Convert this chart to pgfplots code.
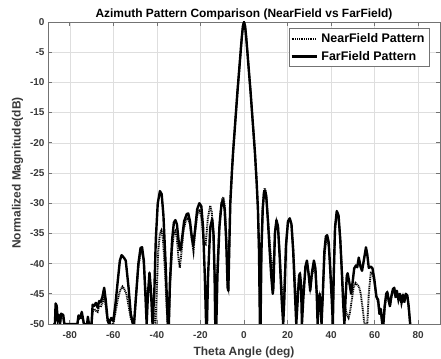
\documentclass[border=0pt]{standalone}
\usepackage{pgfplots}
\pgfplotsset{compat=1.18}
\usepackage{fontspec}
\setmainfont{Liberation Sans}
\begin{document}
\begin{tikzpicture}[x=1bp,y=1bp]
\begin{axis}[
  at={(0,0)}, anchor=south west,
  width=392bp, height=302bp, scale only axis,
  xmin=-90, xmax=90, ymin=-50, ymax=0,
  xtick={-80,-60,...,80}, ytick={-50,-45,...,0},
  grid=major, major grid style={black!13, line width=0.5bp},
  axis line style={black!55, line width=0.7bp},
  tick style={black!55, line width=0.7bp},
  tick align=inside, major tick length=4bp,
  tick label style={font=\bfseries\fontsize{10}{11}\selectfont, text=black!78},
  xticklabel style={yshift=-4.5bp},
  /pgf/number format/assume math mode=true,
  title={Azimuth Pattern Comparison (NearField vs FarField)},
  title style={font=\bfseries\fontsize{12}{14}\selectfont, at={(axis description cs:0.5,1)}, anchor=base, yshift=-1.5bp},
  xlabel={Theta Angle (deg)},
  ylabel={Normalized Magnitude(dB)},
  label style={font=\bfseries\fontsize{12}{14}\selectfont, text=black!78},
  xlabel style={at={(axis description cs:0.5,0)}, anchor=base, yshift=-31bp},
  ylabel style={at={(axis description cs:-0.0778,0.5)}, anchor=center},
  legend style={at={(rel axis cs:0.9745,0.980)}, anchor=north east,
    font=\bfseries\fontsize{12.5}{14}\selectfont, draw=black!55,
    line width=0.7bp, inner sep=1.5bp, row sep=0bp,
    nodes={inner sep=3.6bp}},
  legend cell align=left,
  legend image code/.code={\draw[#1] (0bp,0bp) -- (25bp,0bp);},
]
\addplot[black, line width=1.9bp, dotted, dash pattern=on 1bp off 0.8bp] coordinates {
(-87.5,-50) (-86.8,-50) (-86.4,-47) (-86,-47.5) (-85.5,-49.5) (-85,-48.8) (-84.5,-50)
(-84,-48.8) (-83,-49) (-82.5,-50) (-76.5,-50) (-76,-49) (-75,-49.2) (-74.5,-48.5)
(-73.5,-50) (-72,-50) (-71.7,-49.2) (-71.2,-50) (-70,-50) (-69.5,-48) (-68.8,-47.5)
(-68,-47.8) (-67.2,-48) (-66.5,-47) (-65.8,-47.2) (-65,-46.5) (-64.2,-45.5) (-63.5,-47)
(-62.7,-49.5) (-62,-50) (-61,-50) (-60,-50) (-59,-48) (-58,-46) (-57,-44.5) (-55.8,-43.8)
(-55,-44.2) (-54,-45) (-53,-47) (-52,-49) (-51,-50) (-50.5,-50) (-49.5,-45) (-48.5,-40.5)
(-47.5,-38.2) (-46.8,-38) (-46,-40) (-45.3,-44) (-44.7,-46.5) (-44.1,-45) (-43.4,-44)
(-42.5,-45.5) (-41.5,-48) (-40.6,-50) (-40.1,-45) (-39.4,-38) (-38.6,-35) (-37.9,-34.5)
(-37.2,-36) (-36.3,-41) (-35.4,-48) (-35,-50) (-34.5,-50) (-34,-44) (-33,-37.5)
(-32.2,-35) (-31.5,-34.6) (-30.8,-35.8) (-30,-39.5) (-29.5,-40.7) (-28.8,-38.5) (-27.8,-34.5)
(-26.5,-32.6) (-25.8,-32.5) (-24.8,-33.5) (-24,-36) (-23.2,-38) (-22.5,-35) (-21.5,-32)
(-20.5,-31) (-19.5,-32.5) (-18.5,-36.5) (-17.6,-36.8) (-16.6,-32.5) (-15.5,-30.4)
(-14.8,-31.5) (-14,-36) (-13.3,-44) (-12.8,-46) (-12,-38.5) (-11,-32) (-10,-29.3)
(-9.4,-29) (-8.7,-31) (-8,-36.5) (-7.5,-43.5) (-7.2,-44) (-6.8,-38) (-6.3,-30)
(-5.5,-24.5) (-5,-21.5) (-4,-16.5) (-3,-11.5) (-2,-7) (-1.5,-4.7) (-1,-2.5) (-0.5,-0.7)
(0,0) (0.5,-0.7) (1,-2.5) (1.5,-4.7) (2,-7) (3,-11.5) (4,-16.5) (5,-21.5) (5.8,-26.5)
(6.4,-31) (6.9,-38) (7.3,-47) (7.6,-46) (8,-37) (8.6,-30.5) (9.2,-27.8) (9.6,-27.5)
(10.2,-28.5) (11,-32.5) (11.8,-36.5) (12.5,-39.5) (13.2,-41) (13.6,-40) (14.3,-34.5)
(14.9,-33) (15.6,-34) (16.4,-38.5) (17.3,-44) (18,-47) (18.5,-44) (19.3,-36.5) (20.2,-33)
(21,-32.7) (21.8,-33.5) (22.6,-37.5) (23.4,-43) (24,-47) (24.5,-45.5) (25.3,-42.5)
(25.7,-42) (26.2,-43.5) (26.6,-47) (27.2,-45) (28.2,-41) (28.9,-40) (29.6,-41.5)
(30.4,-44) (31.2,-42) (32.1,-40.5) (32.8,-41.5) (33.4,-45) (33.8,-47.5) (34.2,-46.5)
(34.7,-45.5) (35.2,-47) (35.6,-49) (36.2,-45) (36.9,-39) (37.6,-36.5) (38.2,-36.2)
(38.9,-37) (39.6,-41) (40.3,-45.5) (40.8,-48) (41.2,-42) (41.8,-34.5) (42.6,-31.5)
(43.4,-32.3) (44.2,-36) (45,-41.5) (45.8,-46) (46.6,-47.5) (47.3,-48.5) (48,-49)
(48.7,-48) (49.5,-46) (50.3,-44) (51.2,-43.2) (52,-43.5) (52.8,-43.8) (53.6,-45)
(54.5,-47.5) (55.3,-50) (56.6,-50) (57.3,-45) (58.2,-41.5) (59,-41.5) (59.8,-43)
(60.8,-45.5) (61.6,-46.5) (62.2,-48.5) (62.8,-48) (63.5,-50) (64,-50) (64.6,-47.5)
(65.3,-45.5) (65.8,-45) (66.4,-46.2) (67,-47.2) (67.6,-45.8) (68.4,-44.5) (69,-44.3)
(69.6,-45.7) (70.2,-44.8) (70.9,-46.2) (71.6,-45.3) (72.3,-46.7) (73,-45.5) (73.6,-46.5)
(74.3,-45.3) (75,-45.6) (75.6,-47.3) (76.3,-50) (76.8,-50)
};
\addlegendentry{NearField Pattern}
\addplot[black, line width=2.4bp, line join=round] coordinates {
(-87.5,-50) (-86.8,-50) (-86.5,-46.6) (-86,-47) (-85.5,-49.5) (-85,-48.5) (-84.5,-50)
(-84,-48.3) (-83,-48.5) (-82.5,-50) (-76.5,-50) (-76,-48.6) (-75,-48.8) (-74.5,-48)
(-73.5,-50) (-72,-50) (-71.7,-48.8) (-71.2,-50) (-70,-50) (-69.5,-46.8) (-68.8,-47)
(-68,-46.5) (-67.2,-47.3) (-66.5,-46.2) (-65.8,-46.4) (-65,-45.5) (-64.2,-44) (-63.5,-46)
(-62.7,-49) (-62,-50) (-61,-49) (-60,-49.5) (-59,-46.6) (-58,-43) (-57,-39.5)
(-56.2,-38.6) (-55.2,-39) (-54.3,-39.5) (-53,-44) (-52,-48.3) (-51,-50) (-50.5,-50)
(-49.5,-45) (-48.5,-40) (-47.5,-37.4) (-46.8,-37.3) (-46,-39.5) (-45.3,-45) (-44.7,-50)
(-44.1,-45) (-43.4,-41.5) (-42.8,-44) (-42,-50) (-41.2,-45) (-40.5,-36) (-39.6,-30)
(-38.6,-28) (-37.8,-28.5) (-37,-32) (-36,-40) (-35,-50) (-34.5,-50) (-34,-43) (-33,-36)
(-32.2,-33.2) (-31.5,-32.8) (-30.8,-33.5) (-29.8,-37) (-29.2,-37.8) (-28.5,-36)
(-27.5,-33) (-26.3,-31.8) (-25.6,-31.7) (-24.8,-33) (-24,-35.5) (-23.3,-37) (-22.5,-34.5)
(-21.5,-31) (-20.5,-30) (-19.6,-30.5) (-18.8,-34) (-18,-42) (-17.4,-50) (-17,-50)
(-16.5,-42) (-15.5,-34) (-14.6,-32.6) (-14,-35) (-13.5,-42) (-13.2,-50) (-12.7,-50)
(-12.2,-42) (-11.3,-34) (-10.3,-30) (-9.6,-29.5) (-8.9,-31) (-8.2,-36) (-7.5,-44)
(-7.2,-44.5) (-6.8,-38) (-6.3,-30) (-5.5,-24.5) (-5,-21.5) (-4,-16.5) (-3,-11.5) (-2,-7)
(-1.5,-4.7) (-1,-2.5) (-0.5,-0.7) (0,0) (0.5,-0.7) (1,-2.5) (1.5,-4.7) (2,-7) (3,-11.5)
(4,-16.5) (5,-21.5) (5.8,-26.5) (6.4,-31) (6.9,-38) (7.3,-50) (7.6,-50) (8,-38) (8.6,-31)
(9.2,-28.2) (9.6,-27.9) (10.2,-28.8) (11,-33) (11.8,-38) (12.5,-42) (13.2,-45) (13.5,-44)
(14.2,-35) (14.9,-32.8) (15.6,-33.8) (16.4,-39) (17.3,-46) (18,-50) (18.5,-46) (19.3,-37)
(20.2,-33) (21,-32.5) (21.8,-33.5) (22.6,-38) (23.4,-45) (24,-50) (24.5,-47) (25.3,-42)
(25.7,-41.6) (26.2,-43.5) (26.6,-50) (27.2,-46) (28.2,-40.5) (28.9,-39.5) (29.6,-41.5)
(30.4,-44.5) (31.2,-41.5) (32.1,-39.5) (32.8,-40.8) (33.4,-45) (33.8,-50) (34.2,-47)
(34.7,-45) (35.2,-47) (35.6,-50) (36.2,-45) (36.9,-38) (37.6,-35.5) (38.2,-35.3)
(38.9,-36.5) (39.6,-41) (40.3,-46) (40.8,-50) (41.2,-42) (41.8,-34) (42.6,-31.3)
(43.4,-32) (44.2,-36) (45,-42) (45.6,-47) (46.1,-50) (46.6,-46) (47.2,-42) (47.6,-41.6)
(48.3,-43) (49.2,-45) (49.9,-43) (50.6,-40.8) (51.4,-40.3) (52,-40.6) (52.7,-39)
(53.5,-40.5) (54.2,-41.2) (55,-39.5) (56,-37.3) (56.6,-38.5) (57.3,-40.7) (58.2,-40.5)
(59,-40.8) (59.8,-42.5) (60.8,-45.5) (61.6,-46) (62.2,-48.3) (62.8,-47.5) (63.5,-50)
(64,-50) (64.6,-47) (65.3,-45) (65.8,-44.7) (66.4,-46) (67,-47) (67.6,-45.5) (68.4,-44.2)
(69,-44) (69.6,-45.5) (70.2,-44.5) (70.9,-46) (71.6,-45) (72.3,-46.5) (73,-45.2)
(73.6,-46.3) (74.3,-45) (75,-45.3) (75.6,-47) (76.3,-50) (76.8,-50)
};
\addlegendentry{FarField Pattern}
\end{axis}
\pgfresetboundingbox
\path[use as bounding box] (-48bp,-35bp) rectangle (393bp,324bp);
\end{tikzpicture}
\end{document}
